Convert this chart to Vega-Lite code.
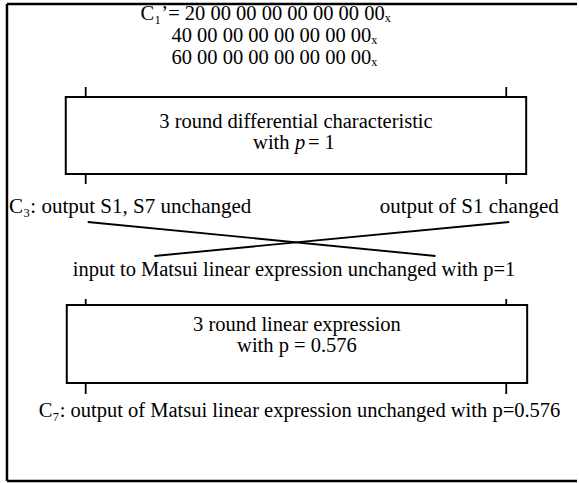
{
  "$schema": "https://vega.github.io/schema/vega-lite/v6.json",
  "width": 579,
  "height": 483,
  "autosize": {"type": "fit", "contains": "padding"},
  "padding": 0,
  "background": "white",
  "config": {"view": {"stroke": null}},
  "datasets": {
    "frame": [
      {"x": 7, "y": 4, "x2": 579, "y2": 4},
      {"x": 7, "y": 4, "x2": 7, "y2": 481},
      {"x": 7, "y": 481, "x2": 579, "y2": 481}
    ],
    "boxes": [
      {"name": "differential", "x": 66, "y": 97, "x2": 528, "y2": 174},
      {"name": "linear", "x": 67, "y": 305, "x2": 529, "y2": 383}
    ],
    "ticks": [
      {"x": 86, "y": 87, "x2": 86, "y2": 97},
      {"x": 508, "y": 87, "x2": 508, "y2": 97},
      {"x": 86, "y": 174, "x2": 86, "y2": 184},
      {"x": 508, "y": 174, "x2": 508, "y2": 184},
      {"x": 86, "y": 299, "x2": 86, "y2": 305},
      {"x": 508, "y": 299, "x2": 508, "y2": 305},
      {"x": 86, "y": 383, "x2": 86, "y2": 394},
      {"x": 508, "y": 383, "x2": 508, "y2": 394},
      {"x": 88, "y": 222, "x2": 437, "y2": 256},
      {"x": 511, "y": 222, "x2": 155, "y2": 256}
    ],
    "header": [
      {"label": "C₁’= 20 00 00 00 00 00 00 00ₓ", "x": 141, "y": 14},
      {"label": "40 00 00 00 00 00 00 00ₓ", "x": 172, "y": 36},
      {"label": "60 00 00 00 00 00 00 00ₓ", "x": 172, "y": 58}
    ],
    "middle": [
      {"label": "C₃: output S1, S7 unchanged", "x": 9, "y": 207},
      {"label": "output of S1 changed", "x": 381, "y": 207}
    ],
    "centered": [
      {"label": "3 round differential characteristic", "x": 297, "y": 122},
      {"label": "input to Matsui linear expression unchanged with p=1", "x": 295, "y": 270},
      {"label": "3 round linear expression", "x": 298, "y": 325},
      {"label": "with p = 0.576", "x": 298, "y": 346}
    ],
    "lefttext": [
      {"label": "C₇: output of Matsui linear expression unchanged with p=0.576", "x": 39, "y": 411},
      {"label": "with ", "x": 254, "y": 143},
      {"label": " = 1", "x": 309, "y": 143}
    ],
    "italic": [
      {"label": "p", "x": 296, "y": 143}
    ]
  },
  "encoding": {
    "x": {"field": "x", "type": "quantitative", "scale": {"domain": [0, 579], "nice": false, "zero": false}, "axis": null},
    "y": {"field": "y", "type": "quantitative", "scale": {"domain": [0, 483], "nice": false, "zero": false, "reverse": true}, "axis": null}
  },
  "layer": [
    {
      "data": {"name": "frame"},
      "mark": {"type": "rule", "color": "black", "strokeWidth": 2.5},
      "encoding": {"x2": {"field": "x2"}, "y2": {"field": "y2"}}
    },
    {
      "data": {"name": "boxes"},
      "mark": {"type": "rect", "fill": "white", "stroke": "black", "strokeWidth": 2},
      "encoding": {"x2": {"field": "x2"}, "y2": {"field": "y2"}}
    },
    {
      "data": {"name": "ticks"},
      "mark": {"type": "rule", "color": "black", "strokeWidth": 1.8},
      "encoding": {"x2": {"field": "x2"}, "y2": {"field": "y2"}}
    },
    {
      "data": {"name": "header"},
      "mark": {"type": "text", "font": "Liberation Serif", "fontSize": 20.5, "align": "left", "baseline": "middle", "color": "black"},
      "encoding": {"text": {"field": "label"}}
    },
    {
      "data": {"name": "middle"},
      "mark": {"type": "text", "font": "Liberation Serif", "fontSize": 21, "align": "left", "baseline": "middle", "color": "black"},
      "encoding": {"text": {"field": "label"}}
    },
    {
      "data": {"name": "centered"},
      "mark": {"type": "text", "font": "Liberation Serif", "fontSize": 20.5, "align": "center", "baseline": "middle", "color": "black"},
      "encoding": {"text": {"field": "label"}}
    },
    {
      "data": {"name": "lefttext"},
      "mark": {"type": "text", "font": "Liberation Serif", "fontSize": 20.5, "align": "left", "baseline": "middle", "color": "black"},
      "encoding": {"text": {"field": "label"}}
    },
    {
      "data": {"name": "italic"},
      "mark": {"type": "text", "font": "Liberation Serif", "fontSize": 20.5, "fontStyle": "italic", "align": "left", "baseline": "middle", "color": "black"},
      "encoding": {"text": {"field": "label"}}
    }
  ]
}
